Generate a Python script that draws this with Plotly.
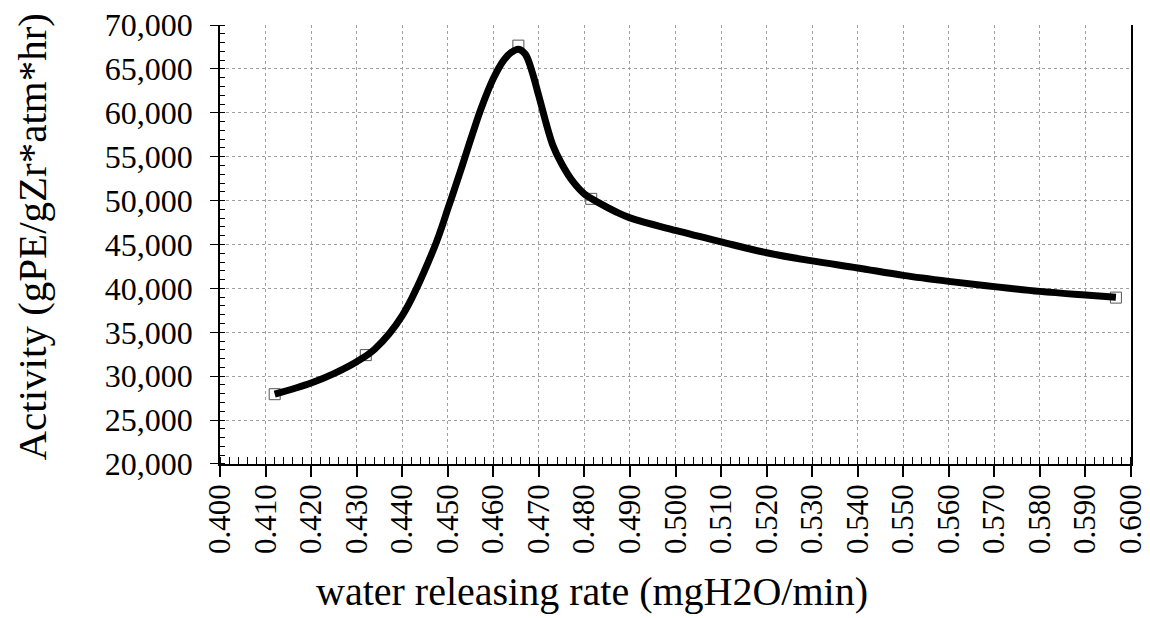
import plotly.graph_objects as go

# Data
curve_x = [0.412, 0.420, 0.425, 0.430, 0.434, 0.440, 0.447, 0.4503,
           0.4532, 0.4553, 0.4574, 0.460, 0.4623, 0.464, 0.4655, 0.467, 0.4685,
           0.470, 0.473, 0.475, 0.4775, 0.480, 0.483, 0.487, 0.490,
           0.500, 0.510, 0.520, 0.530, 0.540, 0.550, 0.560, 0.570, 0.580, 0.590, 0.5967]
curve_y = [27950, 29230, 30300, 31650, 33100, 36900, 44600, 49500,
           54000, 57400, 60600, 63900, 66000, 66900, 67250, 66700, 64700,
           61900, 56400, 54200, 52150, 50750, 49800, 48700, 48030,
           46600, 45300, 44060, 43130, 42330, 41480, 40800, 40200, 39660, 39240, 38980]

marker_x = [0.412, 0.432, 0.4655, 0.4815, 0.5967]
marker_y = [27950, 32400, 67650, 50200, 38950]

x_ticks = [round(0.40 + 0.01 * i, 3) for i in range(21)]
x_tick_labels = [f"{v:.3f}" for v in x_ticks]
y_ticks = [20000 + 5000 * i for i in range(11)]
y_tick_labels = [f"{v:,}" for v in y_ticks]

FONT = "Liberation Serif"
X_RANGE = [0.39999, 0.60001]
Y_RANGE = [19999, 70001]

fig = go.Figure()
fig.add_trace(go.Scatter(
    x=marker_x, y=marker_y, mode="markers",
    marker=dict(symbol="square-open", size=11, color="#555555", line=dict(width=1)),
    showlegend=False, hoverinfo="skip"))
fig.add_trace(go.Scatter(
    x=curve_x, y=curve_y, mode="lines",
    line=dict(color="black", width=7, shape="spline", smoothing=1.0),
    showlegend=False))

fig.update_layout(
    width=1150, height=618,
    margin=dict(l=220, r=19, t=25, b=154, autoexpand=False),
    paper_bgcolor="white", plot_bgcolor="white",
    font=dict(family=FONT, color="black"),
    xaxis=dict(
        range=X_RANGE, tickvals=x_ticks, ticktext=x_tick_labels, tickangle=-90,
        tickfont=dict(size=31, family=FONT, color="black"),
        ticks="outside", ticklen=11, tickwidth=1.5, tickcolor="black",
        ticklabelstandoff=-5, ticklabeloverflow="allow", automargin=False,
        showline=True, linecolor="black", linewidth=1.5,
        showgrid=True, gridcolor="#a0a0a0", griddash="dot", gridwidth=1,
        minor=dict(dtick=0.002, tick0=0.4, ticks="inside", ticklen=7, tickwidth=1.2, tickcolor="black", showgrid=False),
        zeroline=False, fixedrange=True),
    yaxis=dict(
        range=Y_RANGE, tickvals=y_ticks, ticktext=y_tick_labels,
        tickfont=dict(size=32, family=FONT, color="black"),
        ticks="outside", ticklen=8, tickwidth=1.2, tickcolor="black",
        ticklabelstandoff=11, ticklabeloverflow="allow", automargin=False,
        showline=True, linecolor="black", linewidth=1.5, mirror=True,
        showgrid=True, gridcolor="#a0a0a0", griddash="dot", gridwidth=1,
        minor=dict(dtick=1000, tick0=20000, ticks="inside", ticklen=5, tickwidth=1, tickcolor="black", showgrid=False),
        zeroline=False, fixedrange=True),
    xaxis2=dict(overlaying="x", matches="x", anchor="y", side="bottom", automargin=False,
                range=X_RANGE, tickvals=x_ticks, ticks="inside", ticklen=11, tickwidth=1.5,
                tickcolor="black", showticklabels=False, showgrid=False, showline=False, zeroline=False),
    yaxis2=dict(overlaying="y", matches="y", anchor="x", side="left", automargin=False,
                range=Y_RANGE, tickvals=y_ticks, ticks="inside", ticklen=8, tickwidth=1.2,
                tickcolor="black", showticklabels=False, showgrid=False, showline=False, zeroline=False),
    annotations=[
        dict(text="water releasing rate (mgH2O/min)", xref="paper", yref="paper",
             x=0.408, y=-0.3462, xanchor="center", yanchor="bottom", showarrow=False,
             font=dict(size=40, family=FONT, color="black")),
        dict(text="Activity (gPE/gZr*atm*hr)", xref="paper", yref="paper",
             x=-0.206, y=0.519, xanchor="center", yanchor="middle", showarrow=False,
             textangle=-90, font=dict(size=41, family=FONT, color="black")),
    ],
)

fig.write_html("out.html")
